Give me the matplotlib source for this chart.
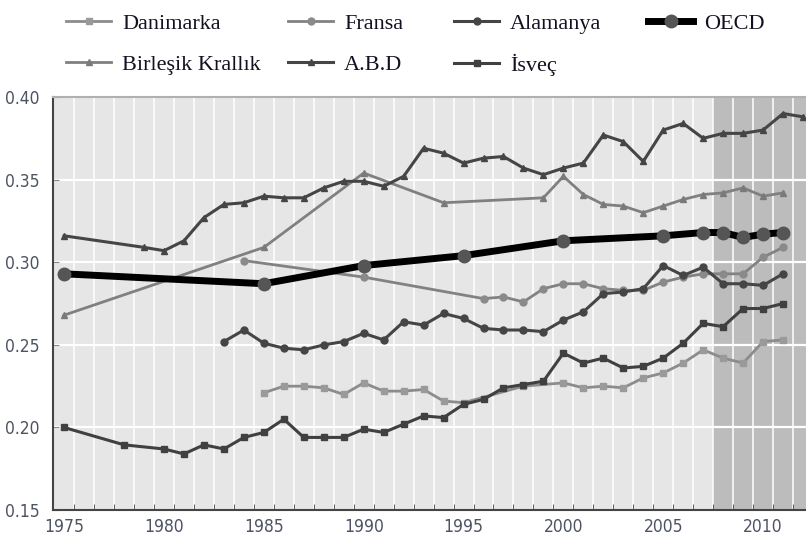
import numpy as np
import matplotlib

matplotlib.use("Agg")
import matplotlib.pyplot as plt
from matplotlib import font_manager

# data (Gini coefficients)
dk_years = [1985, 1986, 1987, 1988, 1989, 1990, 1991, 1992, 1993, 1994, 1995, 1998, 2000,
            2001, 2002, 2003, 2004, 2005, 2006, 2007, 2008, 2009, 2010, 2011]
dk_values = [0.221, 0.225, 0.225, 0.224, 0.220, 0.227, 0.222, 0.222, 0.223, 0.216, 0.215, 0.225, 0.227,
             0.224, 0.225, 0.224, 0.230, 0.233, 0.239, 0.247, 0.242, 0.239, 0.252, 0.253]

uk_years = [1975, 1985, 1990, 1994, 1999, 2000, 2001, 2002, 2003, 2004, 2005, 2006,
            2007, 2008, 2009, 2010, 2011]
uk_values = [0.268, 0.309, 0.354, 0.336, 0.339, 0.352, 0.341, 0.335, 0.334, 0.330, 0.334, 0.338,
             0.341, 0.342, 0.345, 0.340, 0.342]

fr_years = [1984, 1990, 1996, 1997, 1998, 1999, 2000, 2001, 2002, 2003, 2004, 2005,
            2006, 2007, 2008, 2009, 2010, 2011]
fr_values = [0.301, 0.291, 0.278, 0.279, 0.276, 0.284, 0.287, 0.287, 0.284, 0.283, 0.283, 0.288,
             0.291, 0.293, 0.293, 0.293, 0.303, 0.309]

us_years = [1975, 1979, 1980, 1981, 1982, 1983, 1984, 1985, 1986, 1987, 1988, 1989, 1990,
            1991, 1992, 1993, 1994, 1995, 1996, 1997, 1998, 1999, 2000, 2001, 2002, 2003,
            2004, 2005, 2006, 2007, 2008, 2009, 2010, 2011, 2012]
us_values = [0.316, 0.309, 0.307, 0.313, 0.327, 0.335, 0.336, 0.340, 0.339, 0.339, 0.345, 0.349, 0.349,
             0.346, 0.352, 0.369, 0.366, 0.360, 0.363, 0.364, 0.357, 0.353, 0.357, 0.360, 0.377, 0.373,
             0.361, 0.380, 0.384, 0.375, 0.378, 0.378, 0.380, 0.390, 0.388]

de_years = list(range(1983, 2012))
de_values = [0.252, 0.259, 0.251, 0.248, 0.247, 0.250, 0.252, 0.257, 0.253, 0.264, 0.262, 0.269,
             0.266, 0.260, 0.259, 0.259, 0.258, 0.265, 0.270, 0.281, 0.282, 0.284, 0.298, 0.292,
             0.297, 0.287, 0.287, 0.286, 0.293]

se_years = [1975, 1978] + list(range(1980, 2012))
se_values = [0.200, 0.1895, 0.187, 0.184, 0.1895, 0.187, 0.194, 0.197, 0.205, 0.194, 0.194, 0.194,
             0.199, 0.197, 0.202, 0.207, 0.206, 0.214, 0.217, 0.224, 0.226, 0.228, 0.245, 0.239,
             0.242, 0.236, 0.237, 0.242, 0.251, 0.263, 0.261, 0.272, 0.272, 0.275]

oecd_years = [1975, 1985, 1990, 1995, 2000, 2005, 2007, 2008, 2009, 2010, 2011]
oecd_values = [0.293, 0.287, 0.298, 0.304, 0.313, 0.316, 0.318, 0.318, 0.315, 0.317, 0.318]

x_label_years = [1975, 1980, 1985, 1990, 1995, 2000, 2005, 2010]
y_ticks = [0.15, 0.20, 0.25, 0.30, 0.35, 0.40]


def pick_font(names, fallback):
    installed = {f.name for f in font_manager.fontManager.ttflist}
    for name in names:
        if name in installed:
            return name
    return fallback


def main():
    legend_font = pick_font(["Liberation Serif", "DejaVu Serif"], "DejaVu Serif")

    fig = plt.figure(figsize=(8.06, 5.45), dpi=100)
    ax = fig.add_axes([0.066, 0.064, 0.934, 0.758])

    x_min, x_max = 1974.45, 2012.15
    ax.set_facecolor("#e6e6e6")
    ax.axvspan(2007.5, x_max, color="#bcbcbc", zorder=0)

    # white grid: vertical at year boundaries, horizontal at y ticks
    for b in np.arange(1975.5, 2012.5, 1.0):
        ax.axvline(b, color="white", lw=1.3, alpha=0.85, zorder=1)
    for y in y_ticks[1:-1]:
        ax.axhline(y, color="white", lw=1.6, zorder=1)

    series = [
        ("Danimarka", dk_years, dk_values, "#8c8c8c", "s", "#9a9a9a", 2.0, 5),
        ("Birleşik Krallık", uk_years, uk_values, "#808080", "^", "#7a7a7a", 2.0, 5),
        ("Fransa", fr_years, fr_values, "#828282", "o", "#8a8a8a", 2.0, 5),
        ("A.B.D", us_years, us_values, "#454545", "^", "#454545", 2.2, 5),
        ("Alamanya", de_years, de_values, "#454545", "o", "#454545", 2.2, 5),
        ("İsveç", se_years, se_values, "#404040", "s", "#404040", 2.2, 5),
        ("OECD", oecd_years, oecd_values, "#000000", "o", "#555555", 5.0, 9),
    ]
    handles = {}
    for name, xs, ys, color, marker, mcolor, lw, ms in series:
        (line,) = ax.plot(xs, ys, color=color, lw=lw, marker=marker, markersize=ms,
                          markerfacecolor=mcolor, markeredgecolor=mcolor, label=name, zorder=3)
        handles[name] = line

    ax.set_xlim(x_min, x_max)
    ax.set_ylim(0.15, 0.40)
    ax.set_xticks(x_label_years)
    ax.set_xticks(np.arange(1975.5, 2012.5, 1.0), minor=True)
    ax.tick_params(axis="x", which="major", length=0, pad=6)
    ax.tick_params(axis="x", which="minor", direction="in", length=4, color="#444444")
    ax.set_yticks(y_ticks)
    ax.set_yticklabels([f"{v:.2f}" for v in y_ticks])
    ax.tick_params(axis="y", direction="in", length=4, color="#888888", pad=10)
    for lab in ax.get_xticklabels() + ax.get_yticklabels():
        lab.set_fontfamily("DejaVu Sans")
        lab.set_fontstretch("condensed")
        lab.set_fontsize(12.5)
        lab.set_color("#4d5363")

    ax.spines["right"].set_visible(False)
    ax.spines["top"].set_color("#b0b0b0")
    ax.spines["top"].set_linewidth(1.5)
    for side in ["left", "bottom"]:
        ax.spines[side].set_color("#444444")
        ax.spines[side].set_linewidth(1.5)

    # legend laid out as four separate columns like the original
    columns = [
        (["Danimarka", "Birleşik Krallık"], 62),
        (["Fransa", "A.B.D"], 284),
        (["Alamanya", "İsveç"], 450),
        (["OECD"], 644),
    ]
    W, H = 806, 545
    for names, x_px in columns:
        leg = fig.legend(
            handles=[handles[n] for n in names],
            loc="upper left",
            bbox_to_anchor=(x_px / W, 1 - 9 / H),
            frameon=False,
            prop={"family": legend_font, "size": 16},
            handlelength=2.0,
            handletextpad=0.5,
            labelspacing=0.9,
            borderaxespad=0.0,
            borderpad=0.2,
        )
        for t in leg.get_texts():
            t.set_color("#111122")

    fig.savefig("out.png", dpi=100)


if __name__ == "__main__":
    main()
